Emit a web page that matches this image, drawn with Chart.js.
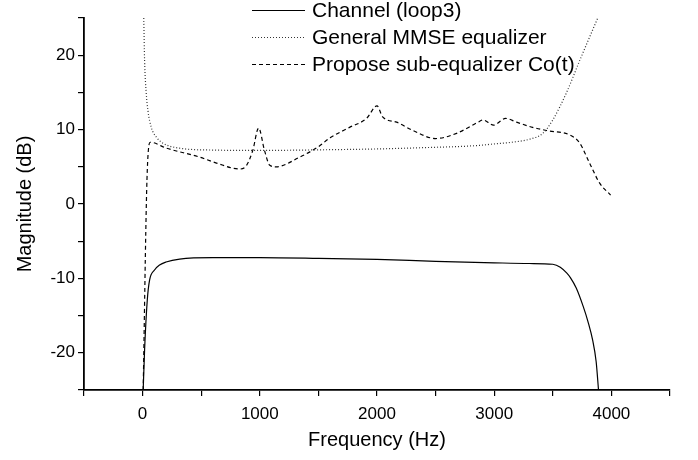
<!DOCTYPE html>
<html>
<head>
<meta charset="utf-8">
<script src="https://cdn.jsdelivr.net/npm/chart.js@4/dist/chart.umd.min.js"></script>
<style>
  html, body { margin: 0; padding: 0; background: #fff; }
  #wrap { width: 698px; height: 460px; }
</style>
</head>
<body>
<div id="wrap"><canvas id="eqChart"></canvas></div>
<script>
// frequencies (Hz) and magnitudes (dB)
const channelFreq = [5, 17, 40, 60, 100, 145, 200, 316, 600, 1000, 1500, 2000, 2500, 3000, 3300, 3500, 3564, 3620, 3650, 3700, 3760, 3800, 3840, 3870, 3890];
const channelDb   = [-25, -19.6, -12.9, -10.2, -8.9, -8.2, -7.8, -7.4, -7.2, -7.2, -7.3, -7.45, -7.7, -7.9, -8.0, -8.1, -8.5, -9.3, -9.9, -11.3, -13.8, -15.8, -18.3, -21.2, -25];

const mmseFreq = [10, 17, 31, 45, 74, 117, 171, 316, 600, 1000, 1600, 2000, 2450, 2800, 3020, 3200, 3300, 3415, 3500, 3615, 3730, 3840, 3900];
const mmseDb   = [25, 19.3, 14.9, 12.6, 10.3, 9.0, 8.2, 7.5, 7.25, 7.2, 7.3, 7.4, 7.6, 7.8, 8.1, 8.4, 8.7, 9.5, 11.3, 14.9, 19.3, 23.4, 25.6];

const proposeFreq = [5, 35, 55, 65, 205, 487, 630, 828, 887, 940, 990, 1040, 1085, 1140, 1340, 1500, 1600, 1766, 1911, 2000, 2048, 2167, 2304, 2500, 2679, 2875, 2903, 2995, 3097, 3191, 3328, 3473, 3643, 3729, 3814, 3900, 3993];
const proposeDb   = [-25, 2, 8.0, 8.3, 7.5, 6.3, 5.5, 4.7, 5.2, 7.2, 10.2, 7.2, 5.2, 5.0, 6.3, 7.7, 8.9, 10.3, 11.5, 13.2, 11.7, 11.0, 9.9, 8.8, 9.5, 11.1, 11.3, 10.6, 11.5, 11.0, 10.3, 9.8, 9.3, 8.2, 5.5, 2.8, 1.2];

const seriesLabels = ['Channel (loop3)', 'General MMSE equalizer', 'Propose sub-equalizer Co(t)'];

function toPoints(xs, ys) {
    return xs.map((x, i) => ({x: x, y: ys[i]}));
}

// legend drawn inside the plot, stacked, like the original figure
const innerLegend = {
    id: 'innerLegend',
    afterDatasetsDraw(chart) {
        const ctx = chart.ctx;
        const rows = [10, 37, 64];
        ctx.save();
        chart.data.datasets.forEach((ds, i) => {
            const y = rows[i];
            ctx.strokeStyle = ds.borderColor;
            ctx.lineWidth = ds.borderWidth;
            ctx.setLineDash(ds.borderDash || []);
            ctx.beginPath();
            ctx.moveTo(252, y + 0.5);
            ctx.lineTo(305, y + 0.5);
            ctx.stroke();
            ctx.setLineDash([]);
            ctx.fillStyle = '#000';
            ctx.font = '21px "Liberation Sans", Arial, sans-serif';
            ctx.textBaseline = 'middle';
            ctx.textAlign = 'left';
            ctx.fillText(ds.label, 312, y + 1);
        });
        ctx.restore();
    }
};

const tickFont = {family: '"Liberation Sans", Arial, sans-serif', size: 17};
const titleFont = {family: '"Liberation Sans", Arial, sans-serif', size: 20};

new Chart(document.getElementById('eqChart'), {
    type: 'line',
    data: {
        datasets: [
            {
                label: seriesLabels[0],
                data: toPoints(channelFreq, channelDb),
                borderColor: '#000',
                borderWidth: 1.2,
                pointRadius: 0,
                fill: false,
                cubicInterpolationMode: 'monotone'
            },
            {
                label: seriesLabels[1],
                data: toPoints(mmseFreq, mmseDb),
                borderColor: '#333',
                borderWidth: 1.2,
                borderDash: [1, 2],
                pointRadius: 0,
                fill: false,
                cubicInterpolationMode: 'monotone'
            },
            {
                label: seriesLabels[2],
                data: toPoints(proposeFreq, proposeDb),
                borderColor: '#000',
                borderWidth: 1.2,
                borderDash: [4, 3],
                pointRadius: 0,
                fill: false,
                cubicInterpolationMode: 'monotone'
            }
        ]
    },
    options: {
        responsive: true,
        maintainAspectRatio: false,
        animation: false,
        layout: {
            padding: {top: 18, right: 28, bottom: 0, left: 0}
        },
        plugins: {
            legend: {display: false},
            tooltip: {enabled: false}
        },
        scales: {
            x: {
                type: 'linear',
                min: -500,
                max: 4500,
                afterFit(scale) { scale.height = 70; },
                border: {display: true, color: '#000', width: 1.8},
                grid: {
                    drawOnChartArea: false,
                    drawTicks: true,
                    tickLength: 6,
                    color: '#000',
                    lineWidth: 1.2
                },
                ticks: {
                    stepSize: 500,
                    color: '#000',
                    font: tickFont,
                    padding: 8,
                    maxRotation: 0,
                    autoSkip: false,
                    callback: (v) => (v % 1000 === 0 && v >= 0 && v <= 4000) ? String(v) : ''
                },
                title: {
                    display: true,
                    text: 'Frequency (Hz)',
                    color: '#000',
                    font: titleFont,
                    padding: {top: 4, bottom: 8}
                }
            },
            y: {
                min: -25,
                max: 25,
                afterFit(scale) { scale.width = 84; },
                border: {display: true, color: '#000', width: 1.8},
                grid: {
                    drawOnChartArea: false,
                    drawTicks: true,
                    tickLength: 6,
                    color: '#000',
                    lineWidth: 1.2
                },
                ticks: {
                    stepSize: 5,
                    color: '#000',
                    font: tickFont,
                    padding: 3,
                    autoSkip: false,
                    callback: (v) => (v % 10 === 0) ? String(v) : ''
                },
                title: {
                    display: true,
                    text: 'Magnitude (dB)',
                    color: '#000',
                    font: titleFont,
                    padding: {top: 13, bottom: 4}
                }
            }
        }
    },
    plugins: [innerLegend]
});
</script>
</body>
</html>
